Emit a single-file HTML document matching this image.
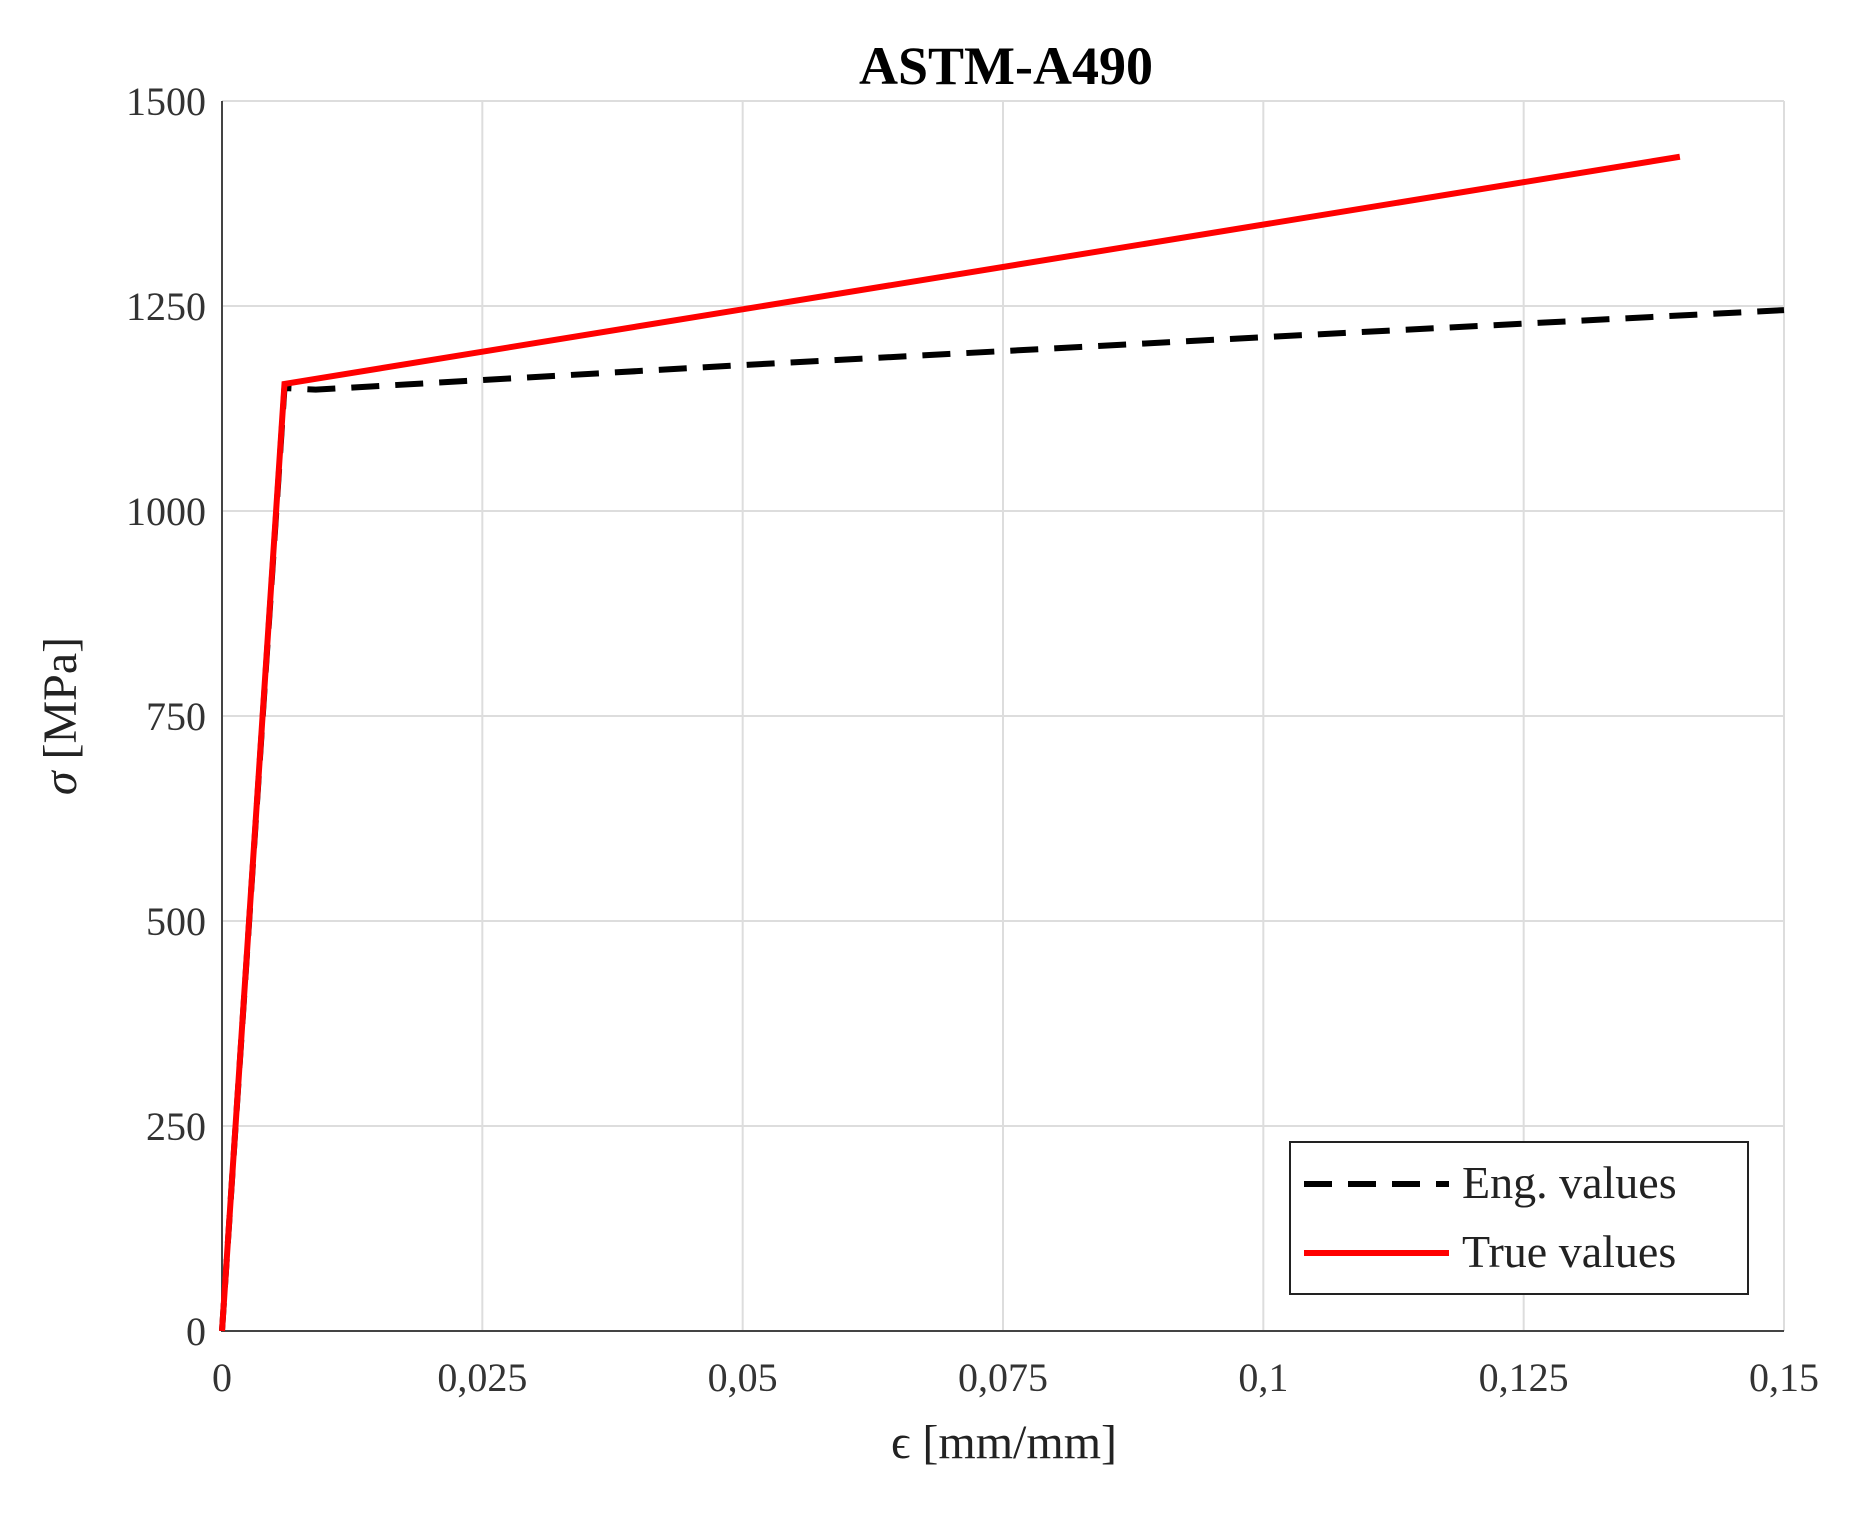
<!DOCTYPE html>
<html><head><meta charset="utf-8"><style>
html,body{margin:0;padding:0;background:#fff;}
svg{display:block;font-family:"Liberation Serif",serif;}
</style></head><body>
<svg id="chart" width="1855" height="1522">
<text x="1006" y="84" text-anchor="middle" font-size="54" font-weight="bold">ASTM-A490</text>
<g id="grid"></g>
<g id="ticks"></g>
<g id="series"></g>
<text x="1004" y="1458" text-anchor="middle" font-size="48" fill="#222">ϵ [mm/mm]</text>
<text transform="translate(76,716) rotate(-90)" text-anchor="middle" font-size="48" fill="#222"><tspan font-style="italic">σ</tspan> [MPa]</text>
<g>
<rect x="1290" y="1142" width="458" height="152" fill="#fff" stroke="#222" stroke-width="2"/>
<line x1="1304" y1="1184" x2="1449" y2="1184" stroke="#000" stroke-width="6" stroke-dasharray="28,16"/>
<text x="1462" y="1198" font-size="46" fill="#222">Eng. values</text>
<line x1="1304" y1="1253" x2="1449" y2="1253" stroke="#f00" stroke-width="6"/>
<text x="1462" y="1267" font-size="46" fill="#222">True values</text>
</g>
</svg>
<script>
const xTicks=[0,0.025,0.05,0.075,0.1,0.125,0.15];
const xTickLabels=["0","0,025","0,05","0,075","0,1","0,125","0,15"];
const yTicks=[0,250,500,750,1000,1250,1500];
const engStrain=[0,0.006,0.009,0.05,0.1,0.15];
const engStress=[0,1150,1148,1178,1212,1245];
const trueStrain=[0,0.006,0.14];
const trueStress=[0,1155,1432];
const L=222,R=1784,T=101,B=1331;
const sx=v=>L+(v-0)/(0.15)*(R-L);
const sy=v=>B-(v/1500)*(B-T);
const NS="http://www.w3.org/2000/svg";
const grid=document.getElementById('grid'),ticks=document.getElementById('ticks'),series=document.getElementById('series');
function mk(tag,attrs,parent){const e=document.createElementNS(NS,tag);for(const k in attrs)e.setAttribute(k,attrs[k]);parent.appendChild(e);return e;}
xTicks.forEach((v,i)=>{
 const g=mk('line',{x1:sx(v),x2:sx(v),y1:T,y2:B,stroke:'#ddd','stroke-width':2},grid);
 
 
 const t=mk('text',{x:sx(v),y:B+60,'text-anchor':'middle','font-size':40,fill:'#333'},ticks);
 t.textContent=xTickLabels[i];
 
 
});
yTicks.forEach(v=>{
 const g=mk('line',{x1:L,x2:R,y1:sy(v),y2:sy(v),stroke:'#ddd','stroke-width':2},grid);
 
 
 const t=mk('text',{x:L-16,y:sy(v)+14,'text-anchor':'end','font-size':40,fill:'#333'},ticks);
 t.textContent=String(v);
 
 
});
const ax=mk('path',{d:`M${L},${T}V${B}H${R}`,fill:'none',stroke:'#444','stroke-width':2},grid);


const eng=mk('polyline',{points:engStrain.map((x,i)=>sx(x)+','+sy(engStress[i])).join(' '),fill:'none',stroke:'#000','stroke-width':6,'stroke-dasharray':'28,16'},series);


const tr=mk('polyline',{points:trueStrain.map((x,i)=>sx(x)+','+sy(trueStress[i])).join(' '),fill:'none',stroke:'#f00','stroke-width':6},series);


</script>
</body></html>
